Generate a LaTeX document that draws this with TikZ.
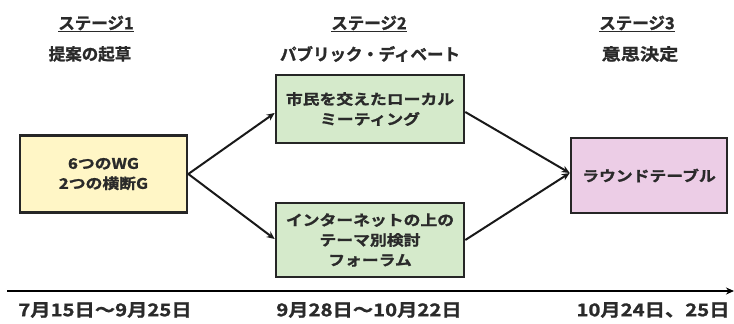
\documentclass[tikz,border=0pt]{standalone}
\usepackage{fontspec}
\setmainfont{Noto Sans CJK JP Bold}
\newfontfamily\boxfont[FakeStretch=1.16,FakeBold=1.4]{Noto Sans CJK JP Bold}
\newfontfamily\headfont[FakeBold=1.3]{Noto Sans CJK JP Bold}
\newfontfamily\datefont[FakeStretch=1.16,FakeBold=1.3]{Noto Sans CJK JP Bold}
\usetikzlibrary{arrows.meta}
\definecolor{txt}{HTML}{2A2A2A}
\definecolor{yel}{HTML}{FFF6C6}
\definecolor{grn}{HTML}{D5EACB}
\definecolor{pnk}{HTML}{ECCDE6}
\tikzset{
  box/.style={draw=black!85, line width=2.6pt, text=txt, align=center, inner sep=0pt, font=\boxfont\fontsize{14.5}{20}\selectfont},
  head/.style={text=txt, font=\headfont\fontsize{16.5}{18}\selectfont},
  date/.style={text=txt, font=\datefont\fontsize{17.5}{20}\selectfont},
  conn/.style={line width=2pt, draw=black!90, -{Stealth[length=8pt,width=7pt]}},
}
\begin{document}
\begin{tikzpicture}[x=1pt,y=-1pt]
\useasboundingbox (0,0) rectangle (734,324);
\node[head] (s1) at (96,24) {\underline{ステージ1}};
\node[head] (t1) at (90,54) {提案の起草};
\node[head] (s2) at (369,24) {\underline{ステージ2}};
\node[head] (t2) at (370,54) {パブリック・ディベート};
\node[head] (s3) at (637,24) {\underline{ステージ3}};
\node[head, font=\datefont\fontsize{16.5}{18}\selectfont] (t3) at (640,54) {意思決定};
\node[box, fill=yel, minimum width=167pt, minimum height=77pt] (wg) at (103.5,174) {6つのWG\\2つの横断G};
\node[box, fill=grn, minimum width=188pt, minimum height=68pt] (lm) at (370,109) {市民を交えたローカル\\ミーティング};
\node[box, fill=grn, minimum width=188pt, minimum height=74pt] (fr) at (370,240) {インターネットの上の\\テーマ別検討\\フォーラム};
\node[box, fill=pnk, minimum width=156pt, minimum height=75pt] (rt) at (649,175.5) {ラウンドテーブル};
\draw[conn] (wg.east) -- (lm.west |- 0,113);
\draw[conn] (wg.east) -- (fr.west |- 0,239);
\draw[conn] (lm.east |- 0,112) -- (rt.west |- 0,173);
\draw[conn] (fr.east |- 0,240) -- (rt.west |- 0,173);
\coordinate (tl0) at (7,291);
\coordinate (tl1) at (734,291);
\draw[line width=2pt, -{Stealth[length=8pt,width=7pt]}] (tl0) -- (tl1);
\node[date] (d1) at (105,310) {7月15日〜9月25日};
\node[date] (d2) at (369,310) {9月28日〜10月22日};
\node[date] (d3) at (653,310) {10月24日、25日};
\end{tikzpicture}
\end{document}
